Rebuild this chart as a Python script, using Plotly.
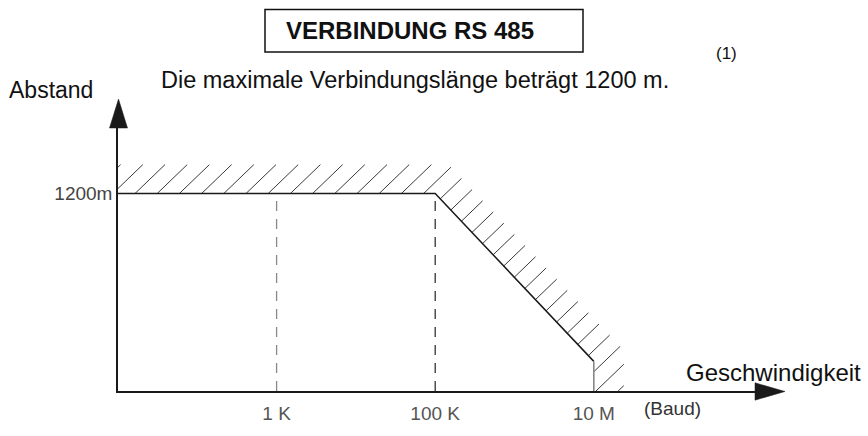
import math
import plotly.graph_objects as go

# --- data -------------------------------------------------------------
axis_origin_baud = 10            # left end of the speed axis
tick_baud = [1e3, 1e5, 1e7]
tick_labels = ["1 K", "100 K", "10 M"]
max_length_m = 1200              # maximum cable length
knee_baud = 1e5                  # speed up to which the full length is usable
limit_baud = 1e7                 # highest speed
length_at_limit_m = 180          # usable length at the highest speed
length_ticks = [1200]
length_tick_labels = ["1200m"]

# --- canvas geometry ---------------------------------------------------
W, H = 868, 436
L, R, T, B = 118, 113, 128, 35
PW, PH = W - L - R, H - T - B
PX_PER_DECADE = 79.3
XR = [math.log10(axis_origin_baud), math.log10(axis_origin_baud) + PW / PX_PER_DECADE]
YR = [0, PH * max_length_m / 205.0]

FONT = "Liberation Sans, Arial, sans-serif"


def paper_x(px):
    return (px - L) / PW


def paper_y(py):
    return (H - B - py) / PH


def to_plot(xd, yd):
    u = (math.log10(xd) - XR[0]) / (XR[1] - XR[0]) * PW
    v = (yd - YR[0]) / (YR[1] - YR[0]) * PH
    return u, v


def to_data(u, v):
    xd = 10 ** (XR[0] + u / PW * (XR[1] - XR[0]))
    yd = YR[0] + v / PH * (YR[1] - YR[0])
    return xd, yd


# limit curve
limit_x = [axis_origin_baud, knee_baud, limit_baud, limit_baud]
limit_y = [max_length_m, max_length_m, length_at_limit_m, 0]

# band of constant thickness on the forbidden side of the curve
BAND = 30.0
pts = [to_plot(x, y) for x, y in zip(limit_x, limit_y)]
segs = []
for (u0, v0), (u1, v1) in zip(pts[:-1], pts[1:]):
    du, dv = u1 - u0, v1 - v0
    ln = math.hypot(du, dv)
    nu, nv = -dv / ln, du / ln          # normal pointing up/right
    segs.append(((u0 + nu * BAND, v0 + nv * BAND), (du, dv), (nu, nv)))

outer = [segs[0][0]]
for (p, d, _), (q, e, _) in zip(segs[:-1], segs[1:]):
    det = d[0] * (-e[1]) - d[1] * (-e[0])
    s = ((q[0] - p[0]) * (-e[1]) - (q[1] - p[1]) * (-e[0])) / det
    outer.append((p[0] + d[0] * s, p[1] + d[1] * s))
last_p, _, last_n = segs[-1]
outer.append((pts[-1][0] + last_n[0] * BAND, pts[-1][1] + last_n[1] * BAND))

poly = pts + outer[::-1]

# 45-degree hatch strokes clipped to the band (even-odd rule)
SPACING = 22.2
PHASE_U = 17.0
v_top = pts[0][1]
c0 = PHASE_U - v_top
hx, hy = [], []
c_min = -max(v for _, v in poly) - SPACING
c_max = max(u for u, _ in poly) + SPACING
k_lo = math.floor((c_min - c0) / SPACING)
k_hi = math.ceil((c_max - c0) / SPACING)
n = len(poly)
for k in range(k_lo, k_hi + 1):
    c = c0 + k * SPACING
    us = []
    for i in range(n):
        (au, av), (bu, bv) = poly[i], poly[(i + 1) % n]
        du, dv = bu - au, bv - av
        den = dv - du
        if abs(den) < 1e-12:
            continue
        t = (au - c - av) / den
        if 0 <= t < 1:
            us.append(au + t * du)
    us.sort()
    for a, b in zip(us[0::2], us[1::2]):
        if b - a < 0.5:
            continue
        x0, y0 = to_data(a, a - c)
        x1, y1 = to_data(b, b - c)
        hx += [x0, x1, None]
        hy += [y0, y1, None]

fig = go.Figure()

fig.add_trace(go.Scatter(
    x=hx, y=hy, mode="lines", line=dict(color="#3a3a3a", width=1.0),
    hoverinfo="skip", showlegend=False,
))

# dashed guides at 1 K and 100 K
fig.add_trace(go.Scatter(
    x=[tick_baud[0], tick_baud[0]], y=[0, max_length_m], mode="lines",
    line=dict(color="#8a8a8a", width=1.3, dash="10px,8px"),
    hoverinfo="skip", showlegend=False,
))
fig.add_trace(go.Scatter(
    x=[knee_baud, knee_baud], y=[0, max_length_m], mode="lines",
    line=dict(color="#333333", width=1.3, dash="10px,8px"),
    hoverinfo="skip", showlegend=False,
))

# limit curve
fig.add_trace(go.Scatter(
    x=limit_x[:3], y=limit_y[:3], mode="lines",
    line=dict(color="#1a1a1a", width=1.5),
    hoverinfo="skip", showlegend=False,
))
fig.add_trace(go.Scatter(
    x=limit_x[2:], y=limit_y[2:], mode="lines",
    line=dict(color="#888888", width=1.6),
    hoverinfo="skip", showlegend=False,
))

shapes = [
    # title frame
    dict(type="rect", xref="paper", yref="paper",
         x0=paper_x(265), x1=paper_x(583), y0=paper_y(49), y1=paper_y(5),
         line=dict(color="#111111", width=1.5), fillcolor="rgba(0,0,0,0)"),
    # arrow heads
    dict(type="path", xref="paper", yref="paper",
         path=f"M{paper_x(118.5)},{paper_y(98)} L{paper_x(109.5)},{paper_y(128)} "
              f"L{paper_x(127.5)},{paper_y(128)} Z",
         line=dict(color="#1a1a1a", width=0.5), fillcolor="#1a1a1a"),
    dict(type="path", xref="paper", yref="paper",
         path=f"M{paper_x(785)},{paper_y(401.5)} L{paper_x(755)},{paper_y(392.5)} "
              f"L{paper_x(755)},{paper_y(410.5)} Z",
         line=dict(color="#1a1a1a", width=0.5), fillcolor="#1a1a1a"),
]


def label(text, px, py, size, xanchor="left", color="#111111"):
    return dict(text=text, xref="paper", yref="paper", x=paper_x(px), y=paper_y(py),
                xanchor=xanchor, yanchor="middle", showarrow=False,
                font=dict(family=FONT, size=size, color=color))


annotations = [
    label("<b>VERBINDUNG RS 485</b>", 410, 27, 24, "center"),
    label("(1)", 726, 51, 17, "center"),
    label("Die maximale Verbindungslänge beträgt 1200 m.", 159, 78, 23.5),
    label("Abstand", 7, 89, 23),
    label("Geschwindigkeit", 684, 382, 24),
    label("(Baud)", 642, 419, 19, color="#333333"),
]

fig.update_layout(
    width=W, height=H,
    margin=dict(l=L, r=R, t=T, b=B, pad=0),
    paper_bgcolor="white", plot_bgcolor="white",
    showlegend=False,
    shapes=shapes, annotations=annotations,
    xaxis=dict(type="log", range=XR, showgrid=False, zeroline=False,
               showline=True, linecolor="#1a1a1a", linewidth=1.5,
               tickvals=tick_baud, ticktext=tick_labels, ticks="",
               ticklabelstandoff=4,
               tickfont=dict(family=FONT, size=19, color="#555555")),
    yaxis=dict(range=YR, showgrid=False, zeroline=False,
               showline=True, linecolor="#1a1a1a", linewidth=1.5,
               tickvals=length_ticks, ticktext=length_tick_labels, ticks="",
               tickfont=dict(family=FONT, size=19, color="#444444")),
)

fig.write_html("out.html")
